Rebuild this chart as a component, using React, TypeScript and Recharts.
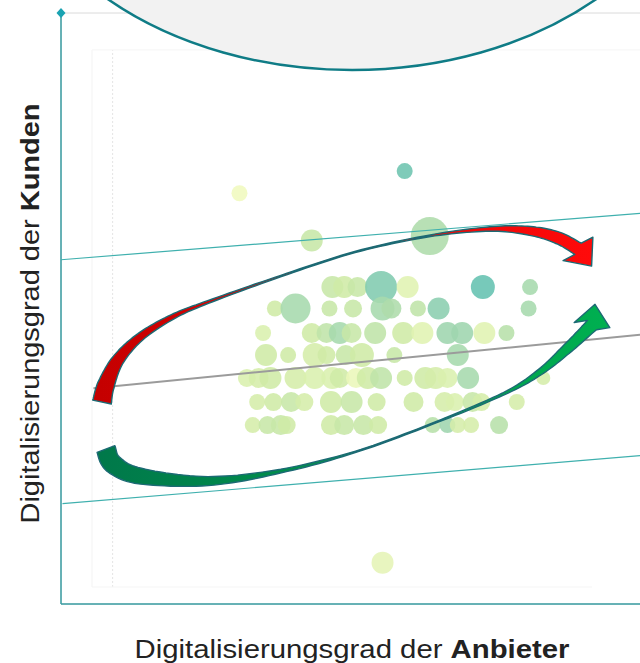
import React from 'react';
import {
  ComposedChart, Scatter, XAxis, YAxis, ZAxis, CartesianGrid,
  ReferenceDot, ReferenceLine,
} from 'recharts';

// bubbles (grid units: Anbieter on x, Kunden on y)
const bubbleX = [
  1.21, 2.33, 1.70, 2.50, 2.18,
  1.84, 1.92, 2.01, 2.17, 2.35, 2.86, 3.18,
  1.45, 1.59, 1.82, 1.98, 2.18, 2.24, 2.42, 2.56, 3.17,
  1.37, 1.70, 1.80, 1.89, 1.97, 2.13, 2.32, 2.45, 2.62, 2.72, 2.87, 3.02,
  1.39, 1.54, 1.72, 1.80, 1.93, 2.04, 2.26, 2.69,
  1.26, 1.34, 1.42, 1.59, 1.72, 1.84, 1.89, 2.00, 2.08, 2.17, 2.33, 2.47, 2.54, 2.62, 2.76, 3.27,
  1.33, 1.44, 1.56, 1.65, 1.83, 1.97, 2.14, 2.39, 2.60, 2.67, 2.79, 2.85, 3.09,
  1.30, 1.40, 1.49, 1.53, 1.83, 1.92, 2.05, 2.15, 2.52, 2.62, 2.69, 2.78, 2.97,
];
const bubbleY = [
  2.78, 2.93, 2.46, 2.49, 0.28,
  2.145, 2.145, 2.145, 2.145, 2.145, 2.145, 2.145,
  2.00, 2.00, 2.00, 2.00, 2.00, 2.00, 2.00, 2.00, 2.00,
  1.834, 1.834, 1.834, 1.834, 1.834, 1.834, 1.834, 1.834, 1.834, 1.834, 1.834, 1.834,
  1.685, 1.685, 1.685, 1.685, 1.685, 1.685, 1.685, 1.685,
  1.53, 1.53, 1.53, 1.53, 1.53, 1.53, 1.53, 1.53, 1.53, 1.53, 1.53, 1.53, 1.53, 1.53, 1.53, 1.53,
  1.367, 1.367, 1.367, 1.367, 1.367, 1.367, 1.367, 1.367, 1.367, 1.367, 1.367, 1.367, 1.367,
  1.211, 1.211, 1.211, 1.211, 1.211, 1.211, 1.211, 1.211, 1.211, 1.211, 1.211, 1.211, 1.211,
];
const bubbleSize = [
  64, 64, 121, 361, 121,
  121, 121, 100, 256, 121, 144, 64,
  64, 225, 64, 81, 144, 100, 64, 121, 64,
  64, 100, 100, 121, 100, 121, 121, 121, 121, 121, 121, 64,
  121, 64, 144, 81, 100, 144, 64, 121,
  81, 100, 121, 121, 121, 121, 100, 100, 121, 121, 64, 121, 121, 100, 121, 49,
  64, 81, 100, 81, 121, 121, 81, 100, 100, 81, 100, 81, 64,
  64, 81, 100, 81, 100, 100, 100, 81, 64, 64, 64, 64, 81,
];
// 0 = yellow, 1 = teal
const bubbleTone = [
  0.0, 0.85, 0.35, 0.5, 0.1,
  0.35, 0.3, 0.35, 0.75, 0.15, 0.9, 0.55,
  0.3, 0.55, 0.35, 0.35, 0.55, 0.5, 0.4, 0.7, 0.55,
  0.2, 0.3, 0.4, 0.55, 0.35, 0.4, 0.3, 0.15, 0.6, 0.6, 0.15, 0.45,
  0.3, 0.3, 0.25, 0.3, 0.35, 0.3, 0.35, 0.55,
  0.2, 0.25, 0.3, 0.25, 0.2, 0.2, 0.3, 0.05, 0.3, 0.4, 0.3, 0.3, 0.25, 0.2, 0.55, 0.25,
  0.25, 0.3, 0.35, 0.25, 0.3, 0.35, 0.3, 0.3, 0.25, 0.2, 0.35, 0.25, 0.25,
  0.25, 0.35, 0.35, 0.3, 0.3, 0.35, 0.35, 0.3, 0.45, 0.6, 0.25, 0.25, 0.45,
];

// trend line and corridor
const trendX = [0.22, 4];
const trendY = [1.46, 1.83];
const upperX = [0, 4];
const upperY = [2.33, 2.65];
const lowerX = [0.01, 4];
const lowerY = [0.68, 1.01];

// arrow centre lines
const redArrowX = [0.278, 0.305, 0.386, 0.536, 0.753, 0.997, 1.492, 1.993, 2.495, 2.908, 3.180, 3.369, 3.505];
const redArrowY = [1.367, 1.482, 1.651, 1.807, 1.942, 2.044, 2.220, 2.382, 2.491, 2.538, 2.525, 2.478, 2.404];
const greenArrowX = [0.305, 0.353, 0.536, 0.997, 1.492, 1.993, 2.495, 2.997, 3.247, 3.437, 3.600];
const greenArrowY = [1.049, 0.948, 0.866, 0.832, 0.900, 1.029, 1.211, 1.421, 1.570, 1.733, 1.888];

const ticks = [0, 1, 2, 3, 4];

const bubbles = bubbleX.map((x, i) => ({ x, y: bubbleY[i], z: bubbleSize[i], tone: bubbleTone[i] }));
const toLine = (xs: number[], ys: number[]) => xs.map((x, i) => ({ x, y: ys[i] }));

const TEAL = '#3a9ea3';
const FONT = "'Liberation Sans', Arial, sans-serif";

const toneStops: [number, number[]][] = [
  [0, [240, 249, 190]],
  [0.3, [207, 235, 166]],
  [0.6, [158, 213, 174]],
  [1, [80, 186, 176]],
];
function toneColor(t: number) {
  for (let i = 1; i < toneStops.length; i++) {
    const [t1, c1] = toneStops[i];
    const [t0, c0] = toneStops[i - 1];
    if (t <= t1) {
      const k = (t - t0) / (t1 - t0);
      const c = c0.map((v, j) => Math.round(v + (c1[j] - v) * k));
      return `rgb(${c[0]},${c[1]},${c[2]})`;
    }
  }
  return 'rgb(80,186,176)';
}

const Bubble = (p: any) => {
  const r = p.width ? p.width / 2 : Math.sqrt((p.size || 64) / Math.PI);
  return (
    <circle cx={p.cx} cy={p.cy} r={r} fill={toneColor(p.payload.tone)} fillOpacity={0.88}
      style={{ filter: 'blur(0.5px)' }} />
  );
};
const NoDot = () => <g />;

type ArrowStyle = { id: string; from: string; to: string; widths: number[]; headLen: number; headHalf: number; headTurn: number };

const redStyle: ArrowStyle = {
  id: 'redFill', from: '#c40000', to: '#ff0a0a',
  widths: [9.5, 8.5, 6, 4, 2.5, 1.4, 0.7, 0.6, 0.8, 2.2, 4.5, 6, 6.5],
  headLen: 22, headHalf: 19, headTurn: 22,
};
const greenStyle: ArrowStyle = {
  id: 'greenFill', from: '#00784a', to: '#00b050',
  widths: [9.5, 9.5, 8, 4.5, 1.8, 0.7, 0.6, 1.2, 3, 5, 6.5],
  headLen: 21, headHalf: 18, headTurn: -38,
};

function ribbon(pts: { x: number; y: number }[], w: number[], st: ArrowStyle) {
  const s: { x: number; y: number; w: number }[] = [];
  const n = pts.length;
  for (let i = 0; i < n - 1; i++) {
    const p0 = pts[i - 1] || pts[i], p1 = pts[i], p2 = pts[i + 1], p3 = pts[i + 2] || pts[i + 1];
    for (let k = 0; k < 12; k++) {
      const t = k / 12, t2 = t * t, t3 = t2 * t;
      const f = (a: number, b: number, c: number, d: number) =>
        0.5 * (2 * b + (-a + c) * t + (2 * a - 5 * b + 4 * c - d) * t2 + (-a + 3 * b - 3 * c + d) * t3);
      s.push({ x: f(p0.x, p1.x, p2.x, p3.x), y: f(p0.y, p1.y, p2.y, p3.y), w: w[i] + (w[i + 1] - w[i]) * t });
    }
  }
  s.push({ x: pts[n - 1].x, y: pts[n - 1].y, w: w[n - 1] });
  const left: string[] = [];
  const right: string[] = [];
  let lastAng = 0;
  s.forEach((p, i) => {
    const a = s[Math.max(0, i - 1)], b = s[Math.min(s.length - 1, i + 1)];
    const ang = Math.atan2(b.y - a.y, b.x - a.x);
    lastAng = ang;
    const nx = -Math.sin(ang), ny = Math.cos(ang);
    left.push(`${(p.x + nx * p.w).toFixed(1)},${(p.y + ny * p.w).toFixed(1)}`);
    right.push(`${(p.x - nx * p.w).toFixed(1)},${(p.y - ny * p.w).toFixed(1)}`);
  });
  const e = s[s.length - 1];
  const ha = lastAng + (st.headTurn * Math.PI) / 180;
  const hx = Math.cos(ha), hy = Math.sin(ha);
  const hnx = -hy, hny = hx;
  const b1 = `${(e.x + hnx * st.headHalf).toFixed(1)},${(e.y + hny * st.headHalf).toFixed(1)}`;
  const tip = `${(e.x + hx * st.headLen).toFixed(1)},${(e.y + hy * st.headLen).toFixed(1)}`;
  const b2 = `${(e.x - hnx * st.headHalf).toFixed(1)},${(e.y - hny * st.headHalf).toFixed(1)}`;
  return `M${left.join(' L')} L${b1} L${tip} L${b2} L${right.reverse().join(' L')} Z`;
}

const arrowLine = (st: ArrowStyle) => (props: any) => {
  const pts = props.points as { x: number; y: number }[];
  if (!pts || pts.length < 2) return <g />;
  return (
    <g>
      <defs>
        <linearGradient id={st.id} x1="0" y1="0" x2="1" y2="0">
          <stop offset="0%" stopColor={st.from} />
          <stop offset="100%" stopColor={st.to} />
        </linearGradient>
      </defs>
      <path d={ribbon(pts, st.widths, st)} fill={`url(#${st.id})`} stroke="#1c6a74" strokeWidth={1.4} strokeLinejoin="round" />
    </g>
  );
};

const XTitle = (props: any) => {
  const vb = props.viewBox || { x: 61, y: 604, width: 590 };
  return (
    <text x={vb.x + vb.width / 2 - 4} y={vb.y + 54} textAnchor="middle" fontFamily={FONT} fontSize={25}
      fill="#222" textLength={435} lengthAdjust="spacingAndGlyphs">
      Digitalisierungsgrad der <tspan fontWeight="bold">Anbieter</tspan>
    </text>
  );
};

const YTitle = (props: any) => {
  const vb = props.viewBox || { x: 60, y: 13, height: 591 };
  const cx = vb.x - 21;
  const cy = vb.y + vb.height / 2 + 5;
  return (
    <text x={cx} y={cy} transform={`rotate(-90, ${cx}, ${cy})`} textAnchor="middle" fontFamily={FONT}
      fontSize={25} fill="#222" textLength={420} lengthAdjust="spacingAndGlyphs">
      Digitalisierungsgrad der <tspan fontWeight="bold">Kunden</tspan>
    </text>
  );
};

const Lens = (p: any) => (
  <ellipse cx={p.cx} cy={p.cy} rx={350} ry={250} fill="#f2f2f2" stroke="#0f7c86" strokeWidth={2.5} />
);
const Diamond = (p: any) => (
  <path d={`M${p.cx},${p.cy - 5} L${p.cx + 4.5},${p.cy} L${p.cx},${p.cy + 5} L${p.cx - 4.5},${p.cy} Z`} fill="#1aa3b2" />
);

export default function App() {
  return (
    <div style={{ position: 'absolute', left: 0, top: 0, width: 640, height: 663, overflow: 'hidden', background: '#fff' }}>
      <ComposedChart width={660} height={663} margin={{ top: 13, right: 9, bottom: 58, left: 60 }}>
        <CartesianGrid stroke="#dadada" strokeWidth={1} />
        <XAxis type="number" dataKey="x" domain={[0, 4]} ticks={ticks} allowDataOverflow height={1}
          tick={false} tickLine={false} axisLine={{ stroke: TEAL, strokeWidth: 1.5 }} label={<XTitle />} />
        <YAxis type="number" dataKey="y" domain={[0, 4]} ticks={ticks} allowDataOverflow width={1}
          tick={false} tickLine={false} axisLine={{ stroke: TEAL, strokeWidth: 1.5 }} label={<YTitle />} />
        <ZAxis type="number" dataKey="z" domain={[0, 400]} range={[0, 400 * Math.PI]} />

        <ReferenceLine segment={[{ x: 0.21, y: 0.115 }, { x: 0.21, y: 3.75 }]} stroke="#f3f3f3" ifOverflow="visible" />
        <ReferenceLine segment={[{ x: 0.35, y: 0.115 }, { x: 0.35, y: 3.75 }]} stroke="#e4e4e4" strokeDasharray="2 2" ifOverflow="visible" />
        <ReferenceLine segment={[{ x: 0.21, y: 3.75 }, { x: 4, y: 3.75 }]} stroke="#f5f5f5" ifOverflow="visible" />
        <ReferenceLine segment={[{ x: 0.21, y: 0.115 }, { x: 3.6, y: 0.115 }]} stroke="#f5f5f5" ifOverflow="visible" />

        <ReferenceDot x={1.973} y={5.306} r={1} ifOverflow="visible" shape={Lens} />
        <ReferenceDot x={0} y={4} r={1} ifOverflow="visible" shape={Diamond} />

        <Scatter data={bubbles} shape={Bubble} isAnimationActive={false} />

        <Scatter data={toLine(upperX, upperY)} shape={NoDot} line={{ stroke: '#3fb0ae', strokeWidth: 1.2 }} isAnimationActive={false} />
        <Scatter data={toLine(lowerX, lowerY)} shape={NoDot} line={{ stroke: '#3fb0ae', strokeWidth: 1.2 }} isAnimationActive={false} />
        <Scatter data={toLine(trendX, trendY)} shape={NoDot} line={{ stroke: '#9b9b9b', strokeWidth: 2 }} isAnimationActive={false} />

        <Scatter data={toLine(redArrowX, redArrowY)} shape={NoDot} line={arrowLine(redStyle)} isAnimationActive={false} />
        <Scatter data={toLine(greenArrowX, greenArrowY)} shape={NoDot} line={arrowLine(greenStyle)} isAnimationActive={false} />
      </ComposedChart>
    </div>
  );
}
